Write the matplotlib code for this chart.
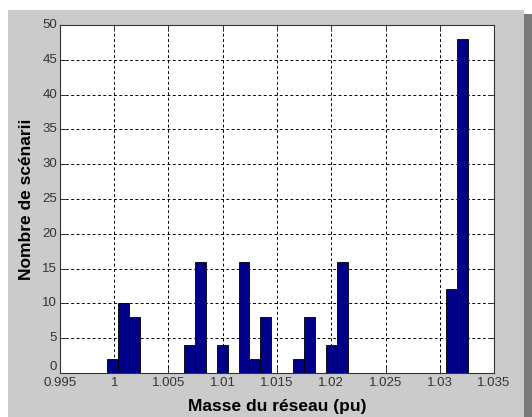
import numpy as np
import matplotlib
matplotlib.use("Agg")
import matplotlib.pyplot as plt
from matplotlib.patches import Rectangle

# Histogram of network mass across scenarios
bin_start = 0.99936
bin_width = 0.001008
counts = [2, 10, 8, 0, 0, 0, 0, 4, 16, 0, 4, 0, 16, 2, 8, 0, 0,
          2, 8, 0, 4, 16, 0, 0, 0, 0, 0, 0, 0, 0, 0, 12, 48]
x_ticks = [0.995, 1.0, 1.005, 1.01, 1.015, 1.02, 1.025, 1.03, 1.035]
x_tick_labels = ["0.995", "1", "1.005", "1.01", "1.015", "1.02", "1.025", "1.03", "1.035"]
y_ticks = [0, 5, 10, 15, 20, 25, 30, 35, 40, 45, 50]

plt.rcParams['font.family'] = ['Liberation Sans', 'DejaVu Sans']

W, H = 532, 417
fig = plt.figure(figsize=(W / 100, H / 100), dpi=100)
fig.patch.set_facecolor('white')

# grey panel and right-hand shadow
fig.patches.append(Rectangle((8 / W, 0), (524 - 8) / W, (H - 10) / H,
                             transform=fig.transFigure, facecolor='#cbcbcb',
                             edgecolor='none', zorder=-10))
fig.patches.append(Rectangle((524 / W, 0), 8 / W, (H - 14) / H,
                             transform=fig.transFigure, facecolor='#7a7a7a',
                             edgecolor='none', zorder=-10))

left, right, top, bottom = 60, 494, 25, 373
ax = fig.add_axes([left / W, 1 - bottom / H, (right - left) / W, (bottom - top) / H])
ax.set_facecolor('white')

edges = bin_start + bin_width * np.arange(len(counts) + 1)
ax.bar(edges[:-1], counts, width=bin_width, align='edge',
       color='#000088', edgecolor='black', linewidth=0.6, zorder=3)

ax.set_xlim(0.995, 1.035)
ax.set_ylim(0, 50)
ax.set_xticks(x_ticks)
ax.set_xticklabels(x_tick_labels)
ax.set_yticks(y_ticks)

ax.grid(True, color='black', linestyle=(0, (3, 2.5)), linewidth=0.7, zorder=1)
ax.tick_params(direction='in', length=4, width=0.7, top=True, right=True,
               labelsize=9.5, labelcolor='#333333', color='#333333')
ax.tick_params(axis='x', pad=3)
ax.tick_params(axis='y', pad=2)
for lbl in ax.get_yticklabels():
    lbl.set_verticalalignment('bottom' if lbl.get_text() == '0' else 'center')
for s in ax.spines.values():
    s.set_color('#333333')
    s.set_linewidth(0.8)

ax.set_xlabel("Masse du réseau (pu)", fontsize=12.5, fontweight='bold', labelpad=7)
ax.set_ylabel("Nombre de scénarii", fontsize=12.5, fontweight='bold', labelpad=6)

fig.savefig("out.png", dpi=100)
